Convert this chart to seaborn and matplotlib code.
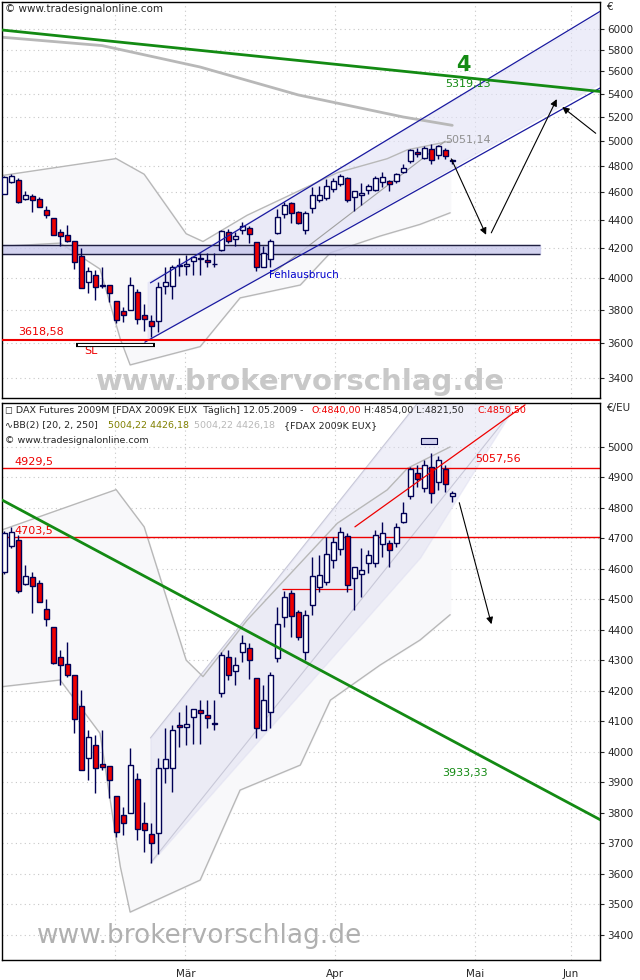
import numpy as np
import pandas as pd
import matplotlib
matplotlib.use("Agg")
import matplotlib.pyplot as plt
import seaborn as sns

sns.set_style("white")
plt.rcParams['font.family'] = ['DejaVu Sans']

# ---- daily OHLC (trading-day index 0..64, last = 12.05.2009) ----
opens  = [4591,4676,4695,4550,4575,4553,4468,4411,4312,4290,4252,4151,3979,4023,3960,3954,3856,3793,3799,3910,3768,3731,3733,3949,3949,4088,4081,4113,4137,4121,4094,4192,4310,4266,4328,4340,4241,4072,4130,4307,4441,4520,4459,4329,4482,4542,4558,4629,4664,4708,4569,4584,4618,4618,4682,4684,4686,4755,4839,4916,4864,4933,4886,4927,4840]
highs  = [4725,4739,4711,4613,4591,4564,4500,4411,4334,4362,4252,4203,4072,4056,4072,3954,3856,3821,4012,3930,3837,3766,3979,4077,4088,4132,4154,4140,4170,4170,4170,4329,4334,4312,4383,4356,4241,4219,4263,4476,4529,4531,4465,4465,4640,4646,4704,4706,4739,4717,4607,4668,4662,4728,4755,4695,4750,4821,4935,4941,4957,4979,4970,4941,4854]
lows   = [4585,4668,4520,4547,4454,4490,4413,4290,4219,4247,4061,3941,3908,3864,3941,3848,3722,3728,3799,3713,3673,3637,3667,3899,3870,4017,4023,4025,4025,4077,4072,4181,4236,4219,4296,4238,4045,4072,4077,4296,4409,4378,4367,4301,4449,4526,4547,4602,4646,4526,4465,4509,4586,4607,4640,4607,4673,4750,4828,4870,4853,4815,4859,4853,4821]
closes = [4717,4722,4529,4577,4544,4493,4435,4291,4285,4252,4107,3941,4048,3946,3952,3908,3736,3768,3957,3746,3744,3700,3946,3976,4072,4081,4092,4140,4129,4110,4092,4318,4252,4285,4358,4301,4077,4170,4252,4419,4507,4446,4378,4449,4577,4580,4649,4689,4722,4547,4607,4597,4646,4711,4719,4662,4739,4785,4927,4894,4941,4848,4957,4879,4850]

# Bollinger bands (read points)
bb_up_x = [-0.3,16,20,26,28.4,34.7,47.6,54.7,57.6,63.7]
bb_up_y = [4728,4860,4738,4301,4247,4432,4750,4859,4930,5000]
bb_lo_x = [-0.3,8,13.7,16.6,18,28,33.7,42.3,46.6,53.7,59.4,63.7]
bb_lo_y = [4214,4236,4061,3624,3475,3580,3875,3957,4170,4285,4367,4450]

# long moving average in upper panel
ma_x = [-0.3,14,28,42,57,64]
ma_y = [5920,5840,5640,5390,5200,5130]

top_ticks = list(range(3400, 6001, 200))
bot_ticks = list(range(3400, 5001, 100))
month_pos = [15.9, 25.9, 47.3, 67.3, 80.9]
month_lbl = ["", "Mär", "Apr", "Mai", "Jun"]

W, H = 640, 980
fig = plt.figure(figsize=(6.4, 9.8), dpi=100)
ax1 = fig.add_axes([2/W, 1-398/H, 598/W, 396/H])
ax2 = fig.add_axes([2/W, 1-960/H, 598/W, 557/H])
XL = (-0.3, 85.1)

def candles(ax):
    idx = np.arange(len(opens))
    o = np.array(opens); c = np.array(closes)
    up = c >= o
    ax.vlines(idx, lows, highs, color="#000055", lw=1, zorder=3)
    ax.bar(idx[up], (c-o)[up], bottom=o[up], width=0.7, color="white",
           edgecolor="#000055", lw=1, zorder=4)
    ax.bar(idx[~up], (o-c)[~up], bottom=c[~up], width=0.7, color="#ee0000",
           edgecolor="#000055", lw=1, zorder=4)

def bands(ax):
    xs = np.linspace(-0.3, 63.7, 200)
    up = np.interp(xs, bb_up_x, bb_up_y)
    lo = np.interp(xs, bb_lo_x, bb_lo_y)
    ax.fill_between(xs, lo, up, color="#f8f8fa", zorder=1)
    sns.lineplot(x=bb_up_x, y=bb_up_y, ax=ax, color="#b8b8b8", lw=1, zorder=2)
    sns.lineplot(x=bb_lo_x, y=bb_lo_y, ax=ax, color="#b8b8b8", lw=1, zorder=2)

def frame(ax, ticks, ylim, unit):
    ax.set_xlim(*XL)
    ax.set_ylim(*ylim)
    ax.minorticks_off()
    ax.set_yticks(ticks)
    ax.set_yticklabels([str(t) for t in ticks], fontsize=7.5)
    ax.yaxis.tick_right()
    ax.tick_params(axis="y", length=3, pad=2)
    ax.set_xticks(month_pos)
    ax.set_xticklabels([])
    ax.tick_params(axis="x", length=3)
    for t in ticks:
        ax.axhline(t, color="#c8c8c8", ls=(0, (1, 3)), lw=0.8, zorder=0)
    for m in month_pos:
        ax.axvline(m, color="#c8c8c8", ls=(0, (1, 3)), lw=0.8, zorder=0)
    for s in ax.spines.values():
        s.set_color("black"); s.set_linewidth(1)
    ax.text(1.012, 1.0, unit, transform=ax.transAxes, fontsize=7.5, va="top")

# ---------------- upper panel ----------------
ax1.set_yscale("log")
bands(ax1)
sns.lineplot(x=ma_x, y=ma_y, ax=ax1, color="#b8b8b8", lw=2, zorder=2)
ax1.fill_between([20.5, 87], [3620, 5560], [3975, 6240], color="#e2e2f6", alpha=0.6, zorder=1)
ax1.plot([20.9, 86.6], [3971, 6238], color="#1a1aa0", lw=0.9, zorder=5)
ax1.plot([20.1, 88], [3606, 5552], color="#1a1aa0", lw=0.9, zorder=5)
ax1.plot([38, 63], [4020, 5000], color="#a0a0a0", lw=0.8, zorder=2)
ax1.fill_between([-0.3, 76.6], [4163, 4163], [4224, 4224], color="#c8c8ec", zorder=2, alpha=0.8)
ax1.hlines([4163, 4224], -0.3, 76.6, color="#202040", lw=1, zorder=2)
ax1.axhline(3618.58, color="#ee0000", lw=1.5, zorder=6)
ax1.text(2, 3650, "3618,58", color="#ee0000", fontsize=8)
ax1.text(11.5, 3535, "SL", color="#ee0000", fontsize=8)
ax1.hlines(3590, 10.3, 21.5, color="black", lw=3, zorder=6)
ax1.hlines(3590, 10.5, 21.3, color="white", lw=1.5, zorder=7)
candles(ax1)
ax1.plot([-0.3, 89.4], [5990, 5393], color="#138a13", lw=2, zorder=6)
ax1.text(63, 5460, "5319,13", color="#138a13", fontsize=8, zorder=7)
ax1.text(64.5, 5600, "4", color="#138a13", fontsize=15, fontweight="bold", zorder=7)
ax1.text(63, 4985, "5051,14", color="#909090", fontsize=8, zorder=7)
ax1.text(37.8, 4005, "Fehlausbruch", color="#0000cc", fontsize=7.5, zorder=7)
ax1.annotate("", xy=(69, 4276), xytext=(63.7, 4878),
             arrowprops=dict(arrowstyle="-|>", color="black", lw=0.8), zorder=8)
ax1.annotate("", xy=(79.1, 5375), xytext=(69.4, 4290),
             arrowprops=dict(arrowstyle="-|>", color="black", lw=0.8), zorder=8)
ax1.annotate("", xy=(79.4, 5300), xytext=(84.8, 5050),
             arrowprops=dict(arrowstyle="-|>", color="black", lw=0.8), zorder=8)
frame(ax1, top_ticks, (3293, 6269), "€")
ax1.text(0.005, 0.995, "© www.tradesignalonline.com", transform=ax1.transAxes,
         fontsize=7.5, va="top")
ax1.text(0.5, 0.005, "www.brokervorschlag.de", transform=ax1.transAxes, fontsize=21,
         color="#c8c8c8", ha="center", va="bottom", fontweight="bold", zorder=9)

# ---------------- lower panel ----------------
bands(ax2)
ax2.fill_between([20.9, 59.4, 72.3], [3636, 4637, 5111], [4046, 5154, 5154],
                 color="#dcdcf0", alpha=0.45, zorder=1)
ax2.plot([20.9, 59.4], [4046, 5154], color="#c8c8d8", lw=0.8, zorder=1)
ax2.plot([20.9, 72.3], [3636, 5111], color="#c8c8d8", lw=0.8, zorder=1)
ax2.axhline(4929.5, color="#ee0000", lw=1, zorder=2)
ax2.axhline(4703.5, color="#ee0000", lw=1, zorder=2)
ax2.text(1.5, 4942, "4929,5", color="#ee0000", fontsize=8)
ax2.text(1.5, 4716, "4703,5", color="#ee0000", fontsize=8)
ax2.hlines(4534, 39.7, 49.7, color="#ee0000", lw=0.9, zorder=2)
ax2.plot([50.1, 74.4], [4738, 5138], color="#ee0000", lw=0.9, zorder=5)
ax2.text(67.3, 4950, "5057,56", color="#ee0000", fontsize=8, zorder=7)
ax2.fill_between([59.5, 61.8], [5010, 5010], [5030, 5030], color="#d0d0ee",
                 edgecolor="#000040", lw=0.8, zorder=7)
candles(ax2)
ax2.plot([-0.3, 88.7], [4826, 3734], color="#138a13", lw=2, zorder=6)
ax2.text(62.5, 3920, "3933,33", color="#138a13", fontsize=8, zorder=7)
ax2.annotate("", xy=(69.7, 4410), xytext=(64.9, 4826),
             arrowprops=dict(arrowstyle="-|>", color="black", lw=0.8), zorder=8)
frame(ax2, bot_ticks, (3318, 5144), "€/EU")
ax2.set_xticklabels(month_lbl, fontsize=7.5)
fs = 6.8
ax2.text(0.005, 0.995, "◻ DAX Futures 2009M [FDAX 2009K EUX  Täglich] 12.05.2009 -",
         transform=ax2.transAxes, fontsize=fs, va="top")
ax2.text(309/598, 0.995, "O:4840,00", color="#ee0000", transform=ax2.transAxes, fontsize=fs, va="top")
ax2.text(362/598, 0.995, "H:4854,00 L:4821,50", transform=ax2.transAxes, fontsize=fs, va="top")
ax2.text(476/598, 0.995, "C:4850,50", color="#ee0000", transform=ax2.transAxes, fontsize=fs, va="top")
ax2.text(0.005, 0.968, "∿BB(2) [20, 2, 250]", transform=ax2.transAxes, fontsize=fs, va="top")
ax2.text(106/598, 0.968, "5004,22 4426,18", color="#808000", transform=ax2.transAxes, fontsize=fs, va="top")
ax2.text(192/598, 0.968, "5004,22 4426,18", color="#b8b8b8", transform=ax2.transAxes, fontsize=fs, va="top")
ax2.text(282/598, 0.968, "{FDAX 2009K EUX}", transform=ax2.transAxes, fontsize=fs, va="top")
ax2.text(0.005, 0.941, "© www.tradesignalonline.com", transform=ax2.transAxes, fontsize=fs, va="top")
ax2.text(0.33, 0.02, "www.brokervorschlag.de", transform=ax2.transAxes, fontsize=19,
         color="#b0b0b0", ha="center", va="bottom", zorder=9)

fig.savefig("out.png", dpi=100)
